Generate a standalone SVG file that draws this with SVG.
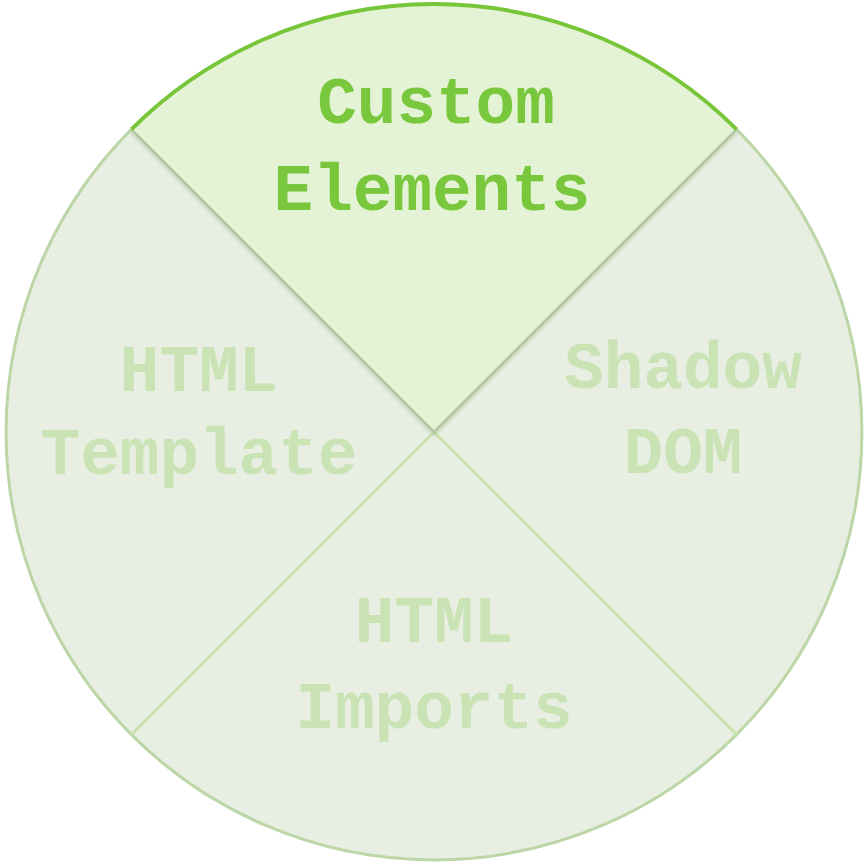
<svg xmlns="http://www.w3.org/2000/svg" width="867" height="864" viewBox="0 0 867 864">
  <defs>
    <style>
      .lbl { font-family: "Liberation Mono", "Courier New", monospace; font-weight: bold; font-size: 66px; text-anchor: middle; }
      .dim { fill: #e8efe2; }
      .dimtxt { fill: #c9e3b5; }
      .act { fill: #e4f3d5; }
      .acttxt { fill: #78c73c; }
      .rim { fill: none; stroke: #bcd6a8; stroke-width: 3; }
      .rimact { fill: none; stroke: #77c63a; stroke-width: 4; }
    </style>
    <filter id="sh" x="-10%" y="-10%" width="120%" height="120%">
      <feGaussianBlur stdDeviation="1.5"/>
    </filter>
  </defs>
  <rect width="867" height="864" fill="#ffffff"/>

  <g id="html-template">
    <path class="dim" d="M434,432 L131.4,734.6 A428,428 0 0,1 131.4,129.4 Z"/>
    <path class="rim" d="M131.4,734.6 A428,428 0 0,1 131.4,129.4"/>
    <text class="lbl dimtxt" x="199" y="391">HTML</text>
    <text class="lbl dimtxt" x="199" y="474">Template</text>
  </g>

  <g id="shadow-dom">
    <path class="dim" d="M434,432 L736.6,129.4 A428,428 0 0,1 736.6,734.6 Z"/>
    <path class="rim" d="M736.6,129.4 A428,428 0 0,1 736.6,734.6"/>
    <text class="lbl dimtxt" x="683" y="388">Shadow</text>
    <text class="lbl dimtxt" x="683" y="473">DOM</text>
  </g>

  <g id="html-imports">
    <path class="dim" d="M434,432 L736.6,734.6 A428,428 0 0,1 131.4,734.6 Z"/>
    <path class="rim" d="M736.6,734.6 A428,428 0 0,1 131.4,734.6"/>
    <text class="lbl dimtxt" x="434" y="642">HTML</text>
    <text class="lbl dimtxt" x="434" y="728">Imports</text>
  </g>

  <g id="dividers">
    <path d="M434,432 L131.4,734.6 M434,432 L736.6,734.6" fill="none" stroke="#c8e4b1" stroke-width="3"/>
    <path d="M131.4,131.4 L434,434 L736.6,131.4" fill="none" stroke="#a9bc9a" stroke-width="4" opacity="0.5" filter="url(#sh)"/>
  </g>

  <g id="custom-elements">
    <path class="act" d="M434,432 L131.4,129.4 A428,428 0 0,1 736.6,129.4 Z"/>
    <path d="M131.4,129.4 L434,432 L736.6,129.4" fill="none" stroke="#b3c6a3" stroke-width="2.5"/>
    <path class="rimact" d="M131.4,129.4 A428,428 0 0,1 736.6,129.4"/>
    <text class="lbl acttxt" x="436" y="123">Custom</text>
    <text class="lbl acttxt" x="432" y="210">Elements</text>
  </g>
</svg>
